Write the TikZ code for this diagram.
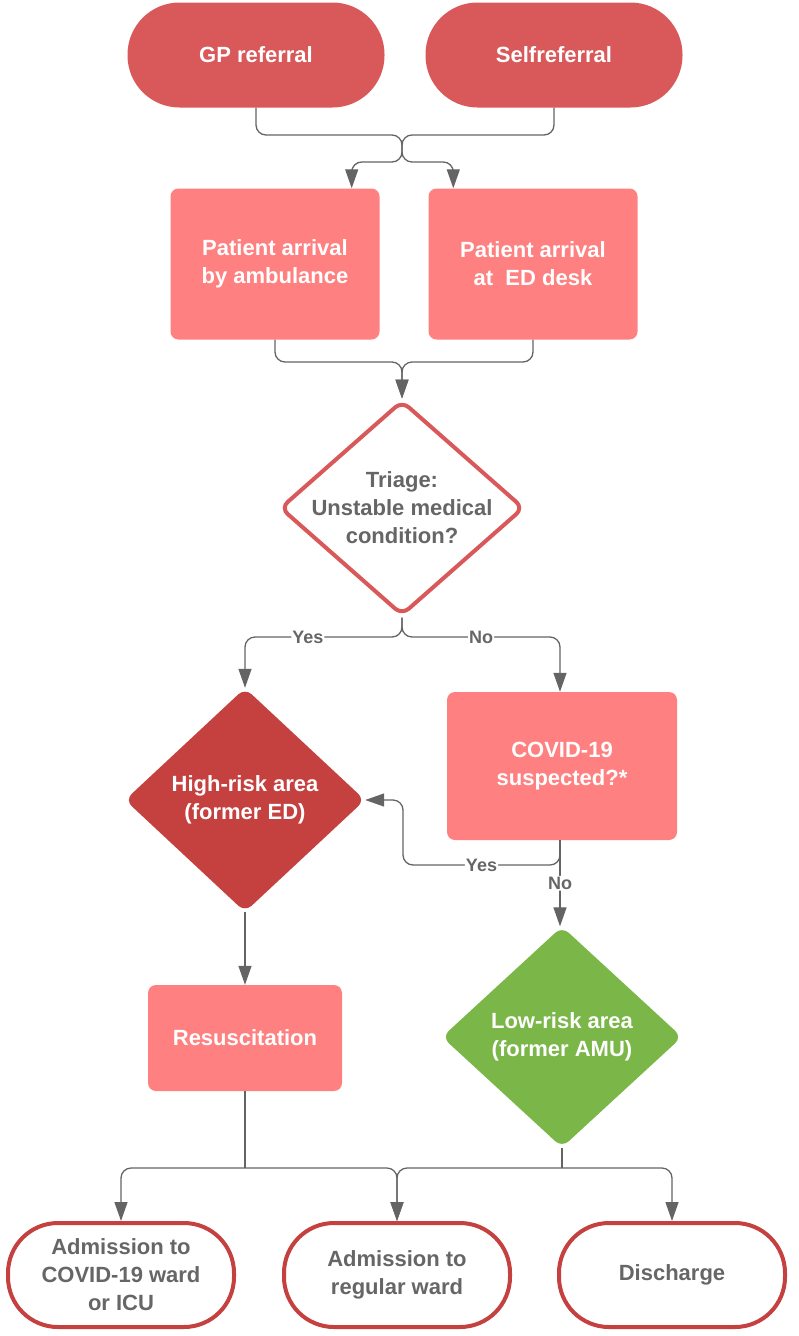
\documentclass[tikz,border=0pt]{standalone}
\usepackage{fontspec}
\setmainfont{Liberation Sans}
\usetikzlibrary{shapes.geometric,arrows.meta}
\definecolor{refred}{RGB}{217,88,89}
\definecolor{boxpink}{RGB}{255,128,128}
\definecolor{riskred}{RGB}{196,65,64}
\definecolor{lowgreen}{RGB}{122,182,72}
\definecolor{linegray}{RGB}{100,100,100}
\definecolor{textgray}{RGB}{102,102,102}

\tikzset{
  txt/.style={font=\bfseries\fontsize{22}{28}\selectfont, align=center},
  refer/.style={txt, fill=refred, text=white, rounded corners=52pt, minimum width=257pt, minimum height=105pt},
  arrival/.style={txt, fill=boxpink, text=white, rounded corners=8pt, minimum width=209pt, minimum height=151pt},
  decide/.style={diamond, inner sep=0pt, rounded corners=9pt},
  outcome/.style={txt, draw=riskred, line width=4pt, fill=white, text=textgray, rounded corners=50pt, minimum width=226pt, minimum height=104pt},
  conn/.style={draw=linegray, line width=1.3pt, rounded corners=10pt},
  arr/.style={conn, -{Triangle[length=19pt,width=13pt]}},
  ans/.style={font=\bfseries\fontsize{18}{20}\selectfont, text=textgray, fill=white, inner sep=1pt}
}

\begin{document}
\begin{tikzpicture}[x=1pt,y=-1pt]
\useasboundingbox (0,0) rectangle (798,1336);

\node[refer] (gp) at (256,55) {GP referral};
\node[refer] (self) at (554,55) {Selfreferral};
\node[arrival] (amb) at (275,264) {Patient arrival\\by ambulance};
\node[arrival] (desk) at (533,264) {Patient arrival\\at\ \ ED desk};
\node[decide, draw=refred, line width=4pt, fill=white, minimum width=244pt, minimum height=215pt,
  label={[txt,text=textgray]center:{Triage:\\Unstable medical\\condition?}}] (triage) at (402,508) {};
\node[decide, fill=riskred, minimum width=240pt, minimum height=224pt,
  label={[txt,text=white]center:{High-risk area\\(former ED)}}] (high) at (245,800) {};
\node[arrival, minimum width=230pt, minimum height=148pt] (covid) at (562,766) {COVID-19\\suspected?*};
\node[decide, fill=lowgreen, minimum width=240pt, minimum height=221pt,
  label={[txt,text=white]center:{Low-risk area\\(former AMU)}}] (low) at (562,1037) {};
\node[arrival, minimum width=194pt, minimum height=106pt] (resus) at (245,1038) {Resuscitation};
\node[outcome] (adm1) at (121,1275) {Admission to\\COVID-19 ward\\or ICU};
\node[outcome] (adm2) at (397,1275) {Admission to\\regular ward};
\node[outcome] (dis) at (672,1275) {Discharge};

\coordinate (j1) at (402,135);
\coordinate (j2) at (402,362);
\coordinate (j3) at (402,637);
\coordinate (j4) at (403,865);
\coordinate (j5) at (245,1168);
\coordinate (j6) at (562,1168);

\draw[arr] (gp.south) |- (j1) -- ++(0,27) -| ([xshift=-28pt]amb.north east);
\draw[arr] (self.south) |- (j1) -- ++(0,27) -| ([xshift=25pt]desk.north west);
\draw[arr] (amb.south) |- (j2) -- (triage.north);
\draw[arr] (desk.south) |- (j2) -- (triage.north);
\draw[arr] (triage.south) -- (j3) -| (high.north) node[ans,pos=0.3] {Yes};
\draw[arr] (triage.south) -- (j3) -| ([xshift=-2pt]covid.north) node[ans,pos=0.25] {No};
\draw[arr] ([xshift=-2pt]covid.south) |- (j4) node[ans,pos=0.75] {Yes} |- (high.east);
\draw[arr] ([xshift=-2pt]covid.south) -- ([xshift=-2pt]low.north) node[ans,midway] {No};
\draw[arr] (high.south) -- (resus.north);
\draw[conn] (resus.south) -- (j5);
\draw[arr] (j5) -| (adm1.north);
\draw[arr] (j5) -| (adm2.north);
\draw[conn] (low.south) -- (j6);
\draw[arr] (j6) -| (adm2.north);
\draw[arr] (j6) -| (dis.north);
\end{tikzpicture}
\end{document}
